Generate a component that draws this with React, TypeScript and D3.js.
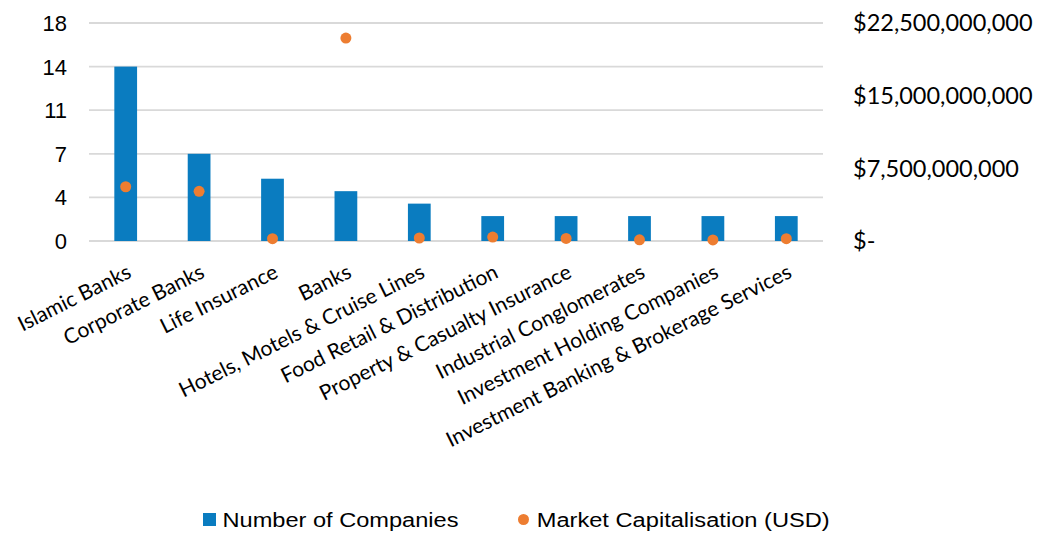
import React from 'react';
import * as d3 from 'd3';

const categories = [
  'Islamic Banks',
  'Corporate Banks',
  'Life Insurance',
  'Banks',
  'Hotels, Motels & Cruise Lines',
  'Food Retail & Distribution',
  'Property & Casualty Insurance',
  'Industrial Conglomerates',
  'Investment Holding Companies',
  'Investment Banking & Brokerage Services',
];
const companyCounts = [14, 7, 5, 4, 3, 2, 2, 2, 2, 2];
const marketCap = [5.6e9, 5.13e9, 0.24e9, 20.95e9, 0.31e9, 0.41e9, 0.26e9, 0.12e9, 0.11e9, 0.24e9];

const leftTicks = [0, 3.5, 7, 10.5, 14, 17.5];
const leftTickLabels = ['0', '4', '7', '11', '14', '18'];
const rightTicks = [0, 7.5e9, 15e9, 22.5e9];
const rightTickLabels = ['$-', '$7,500,000,000', '$15,000,000,000', '$22,500,000,000'];

const W = 1049;
const H = 534;
const BLUE = '#0A7CC0';
const ORANGE = '#ED7D31';

export default function App() {
  const x = d3.scaleBand<string>().domain(categories).range([89, 823]);
  const yLeft = d3.scaleLinear().domain([0, 17.5]).range([241, 23]);
  const yRight = d3.scaleLinear().domain([0, 22.5e9]).range([241, 23]);
  const barW = x.bandwidth() * 0.31;

  return (
    <svg width={W} height={H} style={{ position: 'absolute', left: 0, top: 0, background: '#fff' }}>
      {/* gridlines */}
      {leftTicks.map(t => (
        <line key={t} x1={89} x2={823} y1={yLeft(t)} y2={yLeft(t)} stroke="#D9D9D9" strokeWidth={1.8} />
      ))}

      {/* left axis labels */}
      {leftTicks.map((t, i) => (
        <text key={t} x={67} y={yLeft(t)} dy="0.36em" textAnchor="end"
          fontFamily="Liberation Sans, Arial" fontSize={22} fill="#000">
          {leftTickLabels[i]}
        </text>
      ))}

      {/* right axis labels */}
      {rightTicks.map((t, i) => (
        <text key={t} x={853} y={yRight(t)} dy="0.36em"
          fontFamily="Lato" fontSize={23.5} fill="#000">
          {rightTickLabels[i]}
        </text>
      ))}

      {/* bars */}
      {categories.map((c, i) => {
        const cx = x(c)! + x.bandwidth() / 2;
        return (
          <rect key={c} x={cx - barW / 2} y={yLeft(companyCounts[i])} width={barW}
            height={yLeft(0) - yLeft(companyCounts[i])} fill={BLUE} />
        );
      })}

      {/* market cap points */}
      {categories.map((c, i) => {
        const cx = x(c)! + x.bandwidth() / 2;
        return <circle key={c} cx={cx} cy={yRight(marketCap[i])} r={5.5} fill={ORANGE} />;
      })}

      {/* category labels */}
      {categories.map(c => {
        const cx = x(c)! + x.bandwidth() / 2;
        return (
          <text key={c} transform={`translate(${cx + 2},${267}) rotate(-26.5)`} textAnchor="end"
            dy="0.52em" fontFamily="Lato" fontSize={21} fill="#000">
            {c}
          </text>
        );
      })}

      {/* legend */}
      <rect x={203} y={513} width={13} height={13} fill={BLUE} />
      <text x={222.5} y={526.7} fontFamily="Liberation Sans, Arial" fontSize={20}
        textLength={236} lengthAdjust="spacingAndGlyphs" fill="#000">
        Number of Companies
      </text>
      <circle cx={523.5} cy={519.5} r={5.5} fill={ORANGE} />
      <text x={536.7} y={526.7} fontFamily="Liberation Sans, Arial" fontSize={20}
        textLength={293} lengthAdjust="spacingAndGlyphs" fill="#000">
        Market Capitalisation (USD)
      </text>
    </svg>
  );
}
